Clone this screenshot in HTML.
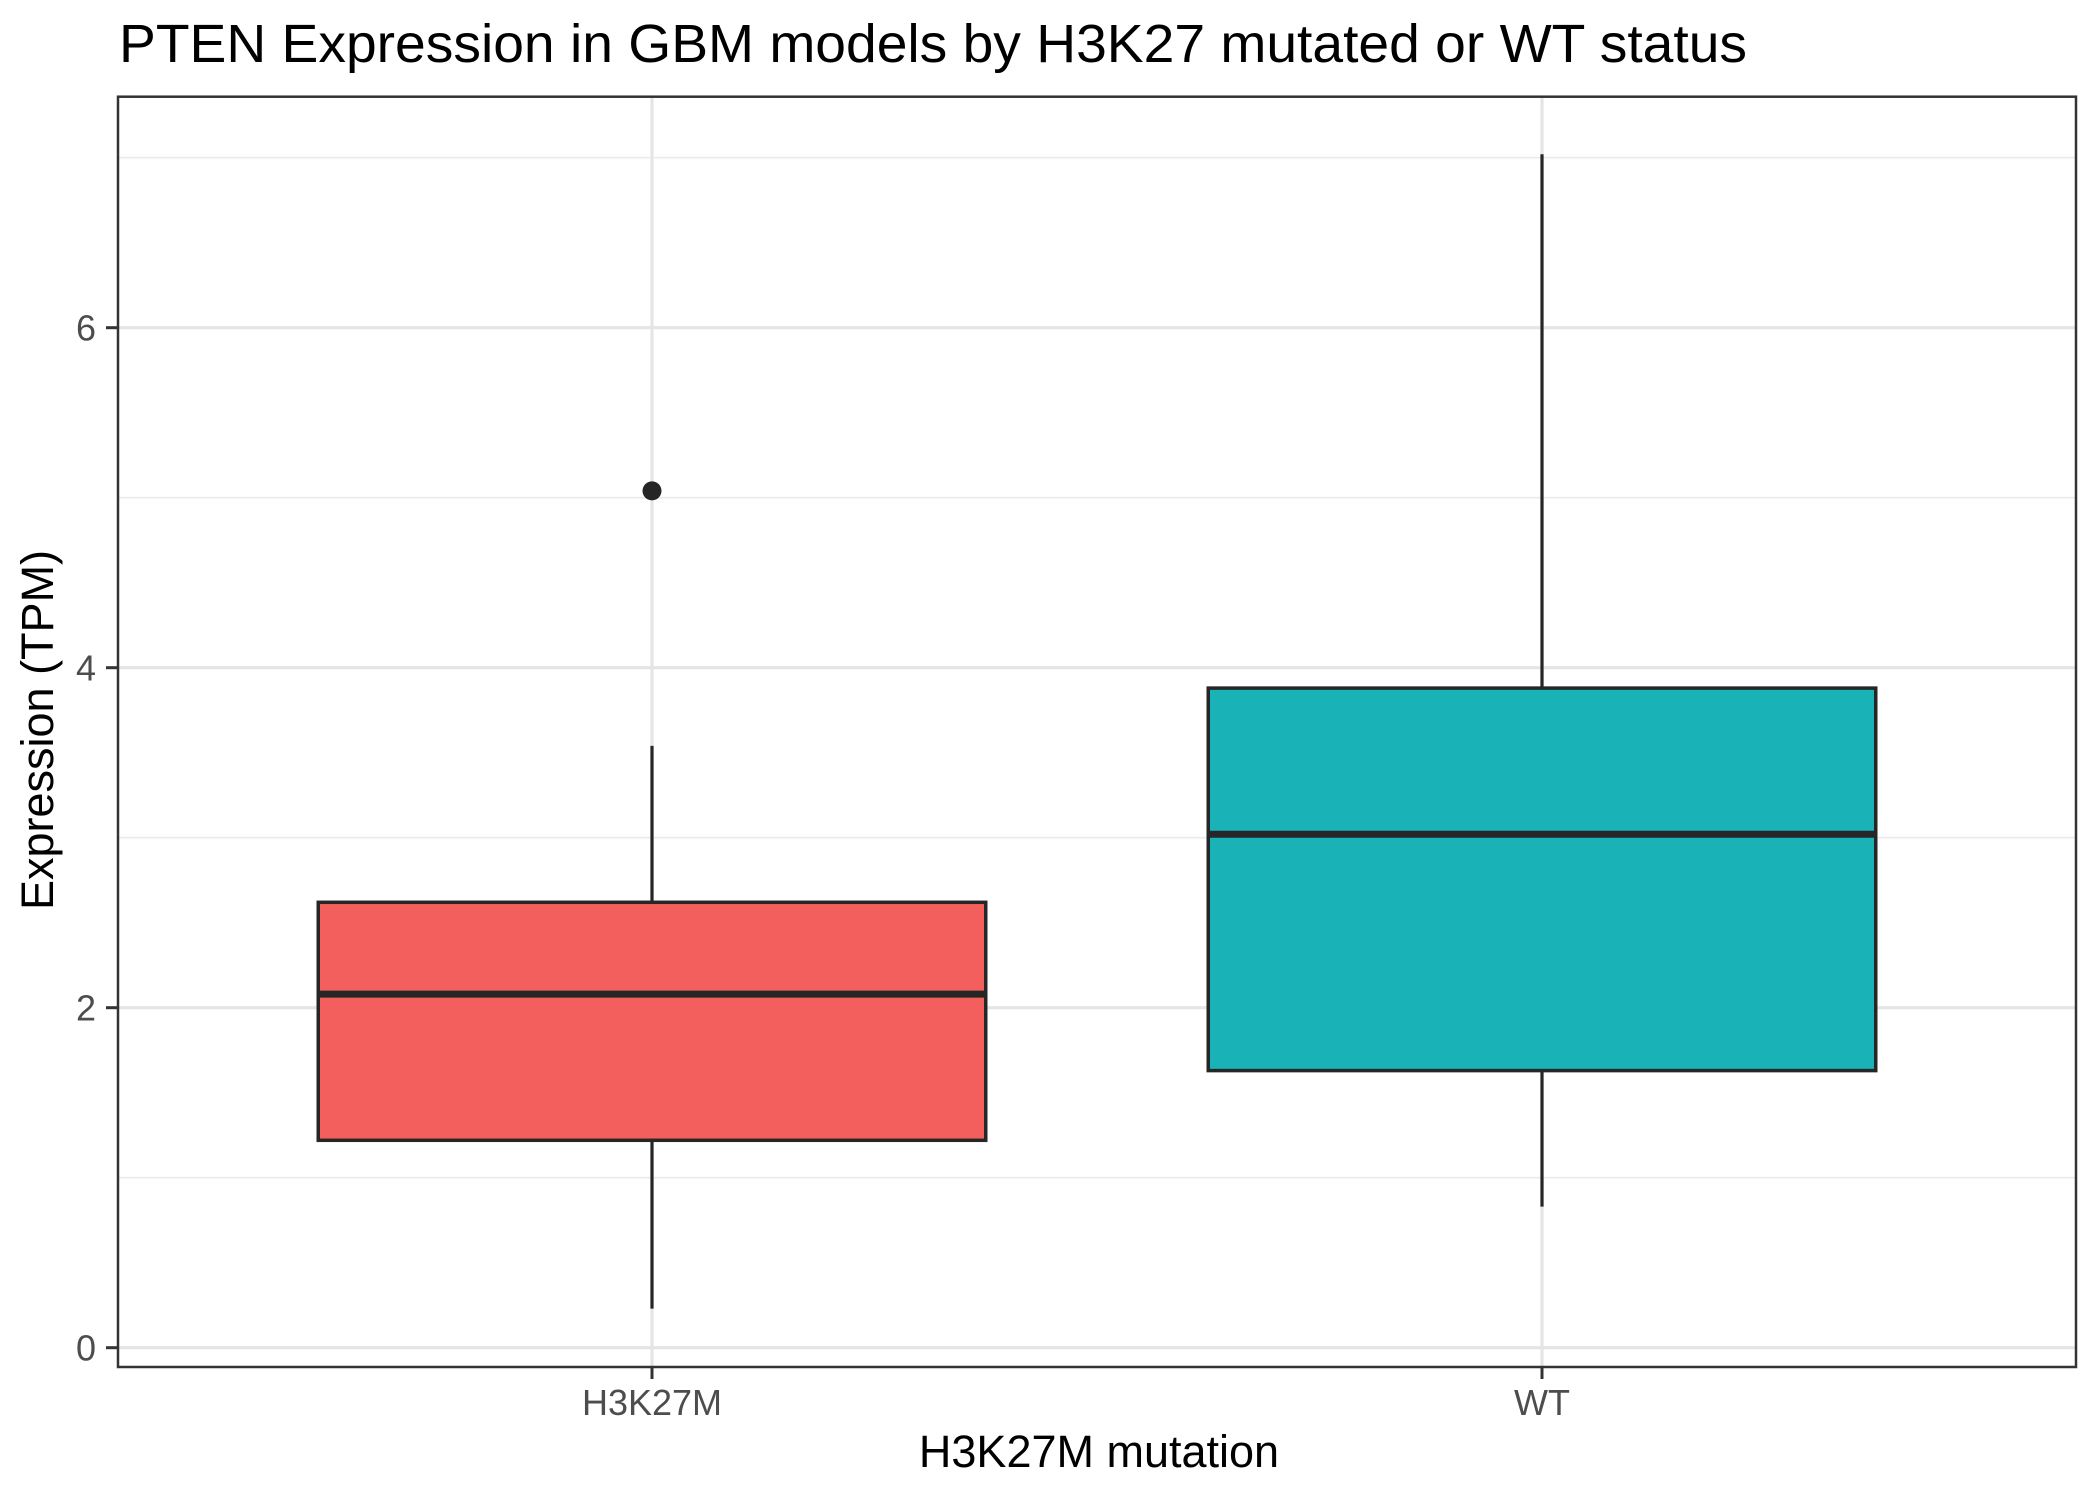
<!DOCTYPE html>
<html><head><meta charset="utf-8"><style>
html,body{margin:0;padding:0;background:#fff;}
svg{display:block;font-family:"Liberation Sans",Arial,sans-serif;}
</style></head><body>
<svg id="chart" width="2099" height="1499" viewBox="0 0 2099 1499" xmlns="http://www.w3.org/2000/svg">
<rect x="0" y="0" width="2099" height="1499" fill="#ffffff"/>
<text x="119" y="62" font-size="54" textLength="1628" lengthAdjust="spacingAndGlyphs" fill="#000">PTEN Expression in GBM models by H3K27 mutated or WT status</text>
<g id="grid"></g>
<g id="marks"></g>
<rect x="118" y="96.7" width="1958" height="1270.3" fill="none" stroke="#333" stroke-width="2.5"/>
<g id="axes"></g>
<text x="1099" y="1467" font-size="45" text-anchor="middle" fill="#000">H3K27M mutation</text>
<text transform="translate(53,730) rotate(-90)" font-size="45" text-anchor="middle" fill="#000">Expression (TPM)</text>
</svg>
<script>
const categories = ["H3K27M", "WT"];
const fills = ["#F25F5C", "#19B2B6"];
const whiskerLow = [0.23, 0.83];
const q1 = [1.22, 1.63];
const median = [2.08, 3.02];
const q3 = [2.62, 3.88];
const whiskerHigh = [3.54, 7.02];
const outliers = [[5.04], []];
const yTicks = [0, 2, 4, 6];
const yMinor = [1, 3, 5, 7];

const NS = "http://www.w3.org/2000/svg";
const L = 118, R = 2076, T = 96.7, B = 1367;
const y0px = 1347.7, pxPerUnit = 170;
function yScale(v){ return y0px - v * pxPerUnit; }
const xUnit = (R - L) / 2.2;
function xScale(i){ return L + (i + 0.6) * xUnit; }
const boxHalf = 0.375 * xUnit;

function mk(tag, attrs, parent){
  const e = document.createElementNS(NS, tag);
  for (const k in attrs) e.setAttribute(k, attrs[k]);
  parent.appendChild(e);
  return e;
}
const grid = document.getElementById('grid');
const marks = document.getElementById('marks');
const axes = document.getElementById('axes');

yMinor.forEach(v => {
  const l = mk('line', {x1:L, x2:R, y1:yScale(v), y2:yScale(v), stroke:'#ebebeb', 'stroke-width':1.6}, grid);
  
  
});
yTicks.forEach(v => {
  const l = mk('line', {x1:L, x2:R, y1:yScale(v), y2:yScale(v), stroke:'#e5e5e5', 'stroke-width':3.2}, grid);
  
  
  const t = mk('line', {x1:106, x2:L, y1:yScale(v), y2:yScale(v), stroke:'#333', 'stroke-width':3}, axes);
  
  
  const tx = mk('text', {x:96, y:yScale(v)+13, 'font-size':36, 'text-anchor':'end', fill:'#4d4d4d'}, axes);
  tx.textContent = v;
  
  
});
categories.forEach((c, i) => {
  const x = xScale(i);
  const g = mk('line', {x1:x, x2:x, y1:T, y2:B, stroke:'#e5e5e5', 'stroke-width':3.2}, grid);
  
  
  const t = mk('line', {x1:x, x2:x, y1:B, y2:B+12, stroke:'#333', 'stroke-width':3}, axes);
  
  
  const tx = mk('text', {x:x, y:1415, 'font-size':36, 'text-anchor':'middle', fill:'#4d4d4d'}, axes);
  tx.textContent = c;
  
  

  const wu = mk('line', {x1:x, x2:x, y1:yScale(q3[i]), y2:yScale(whiskerHigh[i]), stroke:'#262626', 'stroke-width':3.2}, marks);
  
  
  const wl = mk('line', {x1:x, x2:x, y1:yScale(q1[i]), y2:yScale(whiskerLow[i]), stroke:'#262626', 'stroke-width':3.2}, marks);
  
  
  const b = mk('rect', {x:x-boxHalf, y:yScale(q3[i]), width:2*boxHalf, height:yScale(q1[i])-yScale(q3[i]), fill:fills[i], stroke:'#262626', 'stroke-width':3.5}, marks);
  
  
  const m = mk('line', {x1:x-boxHalf, x2:x+boxHalf, y1:yScale(median[i]), y2:yScale(median[i]), stroke:'#262626', 'stroke-width':7}, marks);
  
  
  outliers[i].forEach(v => {
    const p = mk('circle', {cx:x, cy:yScale(v), r:9.5, fill:'#262626'}, marks);
    
    
  });
});
</script>
</body></html>
